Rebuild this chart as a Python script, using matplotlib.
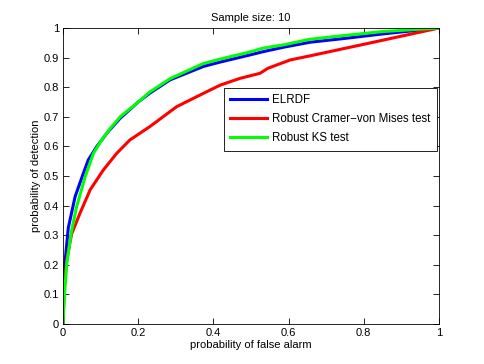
"""ROC curves, sample size 10"""
import matplotlib
matplotlib.use('Agg')
import matplotlib.pyplot as plt
import numpy as np

plt.rcParams['font.family'] = ['Liberation Sans', 'DejaVu Sans']
plt.rcParams['font.size'] = 8

# ROC points
fpr_elrdf = [0, 0.002, 0.005, 0.014, 0.032, 0.054, 0.067, 0.09, 0.12, 0.152, 0.2,
             0.231, 0.285, 0.373, 0.418, 0.497, 0.532, 0.586, 0.657, 0.75, 0.85, 1.0]
tpr_elrdf = [0, 0.12, 0.205, 0.325, 0.43, 0.509, 0.554, 0.6, 0.65, 0.695, 0.75,
             0.78, 0.825, 0.87, 0.885, 0.909, 0.92, 0.935, 0.952, 0.965, 0.98, 1.0]

fpr_cvm = [0, 0.003, 0.01, 0.023, 0.045, 0.072, 0.107, 0.143, 0.178, 0.231, 0.302,
           0.373, 0.418, 0.471, 0.524, 0.545, 0.604, 0.657, 0.8, 1.0]
tpr_cvm = [0, 0.115, 0.22, 0.305, 0.374, 0.453, 0.52, 0.577, 0.622, 0.667, 0.734,
           0.779, 0.807, 0.83, 0.847, 0.864, 0.892, 0.906, 0.945, 1.0]

fpr_ks = [0, 0.002, 0.005, 0.01, 0.022, 0.036, 0.059, 0.081, 0.103, 0.125, 0.152, 0.2,
          0.231, 0.285, 0.373, 0.418, 0.497, 0.532, 0.586, 0.657, 0.75, 0.85, 1.0]
tpr_ks = [0, 0.06, 0.12, 0.205, 0.31, 0.396, 0.498, 0.577, 0.622, 0.66, 0.7, 0.75,
          0.784, 0.829, 0.88, 0.895, 0.919, 0.932, 0.943, 0.962, 0.975, 0.988, 1.0]

labels = ['ELRDF', 'Robust Cramer\u2212von Mises test', 'Robust KS test']
colors = ['#0000ff', '#ff0000', '#00ff00']

fig = plt.figure(figsize=(4.85, 3.64), dpi=100)
ax = fig.add_axes([0.130, 0.110, 0.775, 0.813])

ax.plot(fpr_elrdf, tpr_elrdf, color=colors[0], lw=2.2, label=labels[0])
ax.plot(fpr_cvm, tpr_cvm, color=colors[1], lw=2.2, label=labels[1])
ax.plot(fpr_ks, tpr_ks, color=colors[2], lw=2.2, label=labels[2])

ax.set_xlim(0, 1)
ax.set_ylim(0, 1)
xt = np.arange(0, 1.01, 0.2)
yt = np.arange(0, 1.01, 0.1)
ax.set_xticks(xt)
ax.set_xticklabels(['0', '0.2', '0.4', '0.6', '0.8', '1'])
ax.set_yticks(yt)
ax.set_yticklabels(['0', '0.1', '0.2', '0.3', '0.4', '0.5', '0.6', '0.7', '0.8', '0.9', '1'])
ax.tick_params(direction='in', top=True, right=True, length=4, width=0.6, pad=3)
for s in ax.spines.values():
    s.set_linewidth(0.6)

ax.set_xlabel('probability of false alarm', labelpad=1)
ax.set_ylabel('probability of detection', labelpad=2)
ax.set_title('Sample size: 10', fontsize=8, pad=5)

leg = ax.legend(loc='upper right', bbox_to_anchor=(0.995, 0.797), fancybox=False,
                edgecolor='black', framealpha=1, fontsize=8.3, borderpad=0.55,
                labelspacing=0.6, handlelength=3.2, handletextpad=0.45, borderaxespad=0)
leg.get_frame().set_linewidth(0.6)

fig.savefig('out.png', dpi=100)
